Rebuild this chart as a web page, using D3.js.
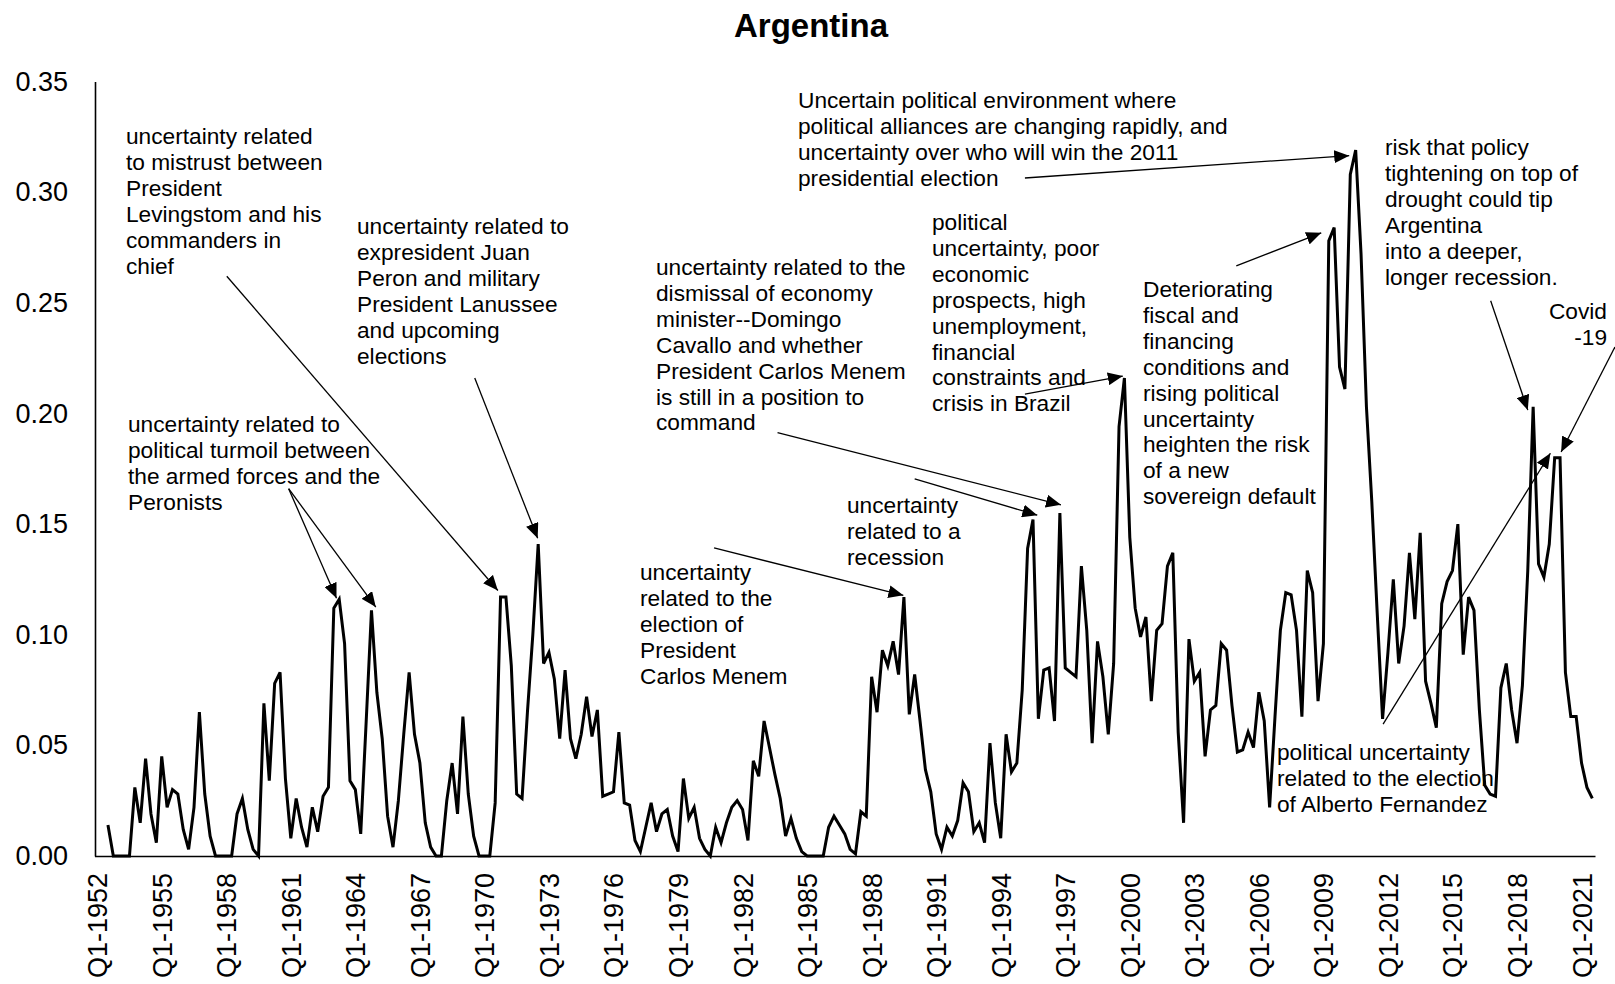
<!DOCTYPE html>
<html>
<head>
<meta charset="utf-8">
<script src="https://cdn.jsdelivr.net/npm/d3@7"></script>
<style>
  body { margin: 0; background: #fff; }
  svg { display: block; font-family: "Liberation Sans", Arial, sans-serif; }
</style>
</head>
<body>
<div id="chart"></div>
<script>
// quarters Q1-1952 .. Q3-2021
const categories = [];
for (let y = 1952; y <= 2021; y++) {
    for (let q = 1; q <= 4; q++) {
        if (y === 2021 && q > 3) break;
        categories.push("Q" + q + "-" + y);
    }
}

// uncertainty index, one value per quarter (first two quarters empty)
const values = [
    null, null, 0.014, 0, 0, 0, 0, 0.031, 0.015, 0.044,
    0.019, 0.006, 0.045, 0.022, 0.030, 0.028, 0.012, 0.003, 0.022, 0.065,
    0.028, 0.009, 0, 0, 0, 0, 0.019, 0.026, 0.012, 0.003,
    0, 0.069, 0.034, 0.078, 0.083, 0.035, 0.008, 0.026, 0.013, 0.004,
    0.022, 0.011, 0.027, 0.031, 0.112, 0.116, 0.096, 0.034, 0.030, 0.010,
    0.060, 0.111, 0.074, 0.053, 0.018, 0.004, 0.025, 0.055, 0.083, 0.055,
    0.042, 0.015, 0.004, 0, 0, 0.025, 0.042, 0.019, 0.063, 0.028,
    0.009, 0, 0, 0, 0.024, 0.117, 0.117, 0.086, 0.028, 0.026,
    0.065, 0.100, 0.141, 0.087, 0.092, 0.080, 0.053, 0.084, 0.053, 0.044,
    0.055, 0.072, 0.054, 0.066, 0.027, 0.028, 0.029, 0.056, 0.024, 0.023,
    0.007, 0.002, 0.013, 0.024, 0.011, 0.019, 0.021, 0.009, 0.002, 0.035,
    0.017, 0.022, 0.008, 0.003, 0, 0.013, 0.006, 0.015, 0.022, 0.025,
    0.021, 0.007, 0.043, 0.036, 0.061, 0.049, 0.037, 0.026, 0.009, 0.017,
    0.008, 0.002, 0, 0, 0, 0, 0.013, 0.018, 0.014, 0.010,
    0.003, 0.001, 0.020, 0.018, 0.081, 0.065, 0.093, 0.086, 0.097, 0.082,
    0.117, 0.064, 0.082, 0.061, 0.039, 0.029, 0.010, 0.003, 0.013, 0.009,
    0.016, 0.033, 0.029, 0.011, 0.015, 0.006, 0.051, 0.024, 0.008, 0.055,
    0.038, 0.042, 0.075, 0.139, 0.152, 0.062, 0.084, 0.085, 0.061, 0.155,
    0.085, 0.083, 0.081, 0.131, 0.102, 0.051, 0.097, 0.081, 0.055, 0.087,
    0.194, 0.216, 0.144, 0.112, 0.099, 0.108, 0.070, 0.102, 0.105, 0.131,
    0.137, 0.056, 0.015, 0.098, 0.079, 0.083, 0.045, 0.066, 0.068, 0.096,
    0.093, 0.068, 0.047, 0.048, 0.056, 0.049, 0.074, 0.061, 0.022, 0.063,
    0.102, 0.119, 0.118, 0.102, 0.063, 0.129, 0.119, 0.070, 0.096, 0.278,
    0.284, 0.221, 0.211, 0.308, 0.319, 0.272, 0.203, 0.160, 0.110, 0.062,
    0.092, 0.125, 0.087, 0.104, 0.137, 0.107, 0.146, 0.079, 0.069, 0.058,
    0.114, 0.124, 0.129, 0.150, 0.091, 0.117, 0.111, 0.066, 0.032, 0.028,
    0.027, 0.076, 0.087, 0.066, 0.051, 0.077, 0.129, 0.203, 0.132, 0.126,
    0.141, 0.180, 0.180, 0.083, 0.063, 0.063, 0.042, 0.031, 0.026
];

const yTicks = [0, 0.05, 0.10, 0.15, 0.20, 0.25, 0.30, 0.35];
const xTickYears = [1952, 1955, 1958, 1961, 1964, 1967, 1970, 1973, 1976, 1979, 1982, 1985,
    1988, 1991, 1994, 1997, 2000, 2003, 2006, 2009, 2012, 2015, 2018, 2021];

// annotations: text lines + arrows given as [quarter index, value]
const notes = [
    { x: 126, y: 136, lines: ["uncertainty related", "to mistrust between", "President", "Levingstom and his", "commanders in", "chief"],
      arrows: [[[24.1, 0.262], [74.5, 0.120]]] },
    { x: 128, y: 424, lines: ["uncertainty related to", "political turmoil between", "the armed forces and the", "Peronists"],
      arrows: [[[35.6, 0.166], [44.5, 0.1165]], [[35.6, 0.166], [51.8, 0.1125]]] },
    { x: 357, y: 226, lines: ["uncertainty related to", "expresident Juan", "Peron and military", "President Lanussee", "and upcoming", "elections"],
      arrows: [[[70.2, 0.216], [81.9, 0.1436]]] },
    { x: 656, y: 267, lines: ["uncertainty related to the", "dismissal of economy", "minister--Domingo", "Cavallo and whether", "President Carlos Menem", "is still in a position to", "command"],
      arrows: [[[126.5, 0.1913], [179.2, 0.1587]]] },
    { x: 640, y: 572, lines: ["uncertainty", "related to the", "election of", "President", "Carlos Menem"],
      arrows: [[[114.7, 0.1392], [149.9, 0.1178]]] },
    { x: 847, y: 505, lines: ["uncertainty", "related to a", "recession"],
      arrows: [[[152.0, 0.1704], [174.8, 0.154]]] },
    { x: 932, y: 222, lines: ["political", "uncertainty, poor", "economic", "prospects, high", "unemployment,", "financial", "constraints and", "crisis in Brazil"],
      arrows: [[[172.5, 0.2087], [190.7, 0.2169]]] },
    { x: 798, y: 100, lines: ["Uncertain political environment where", "political alliances are changing rapidly, and", "uncertainty over who will win the 2011", "presidential election"],
      arrows: [[[172.5, 0.3064], [232.8, 0.3165]]] },
    { x: 1143, y: 289, lines: ["Deteriorating", "fiscal and", "financing", "conditions and", "rising political", "uncertainty", "heighten the risk", "of a new", "sovereign default"],
      arrows: [[[211.8, 0.2667], [227.6, 0.2816]]] },
    { x: 1385, y: 147, lines: ["risk that policy", "tightening on top of", "drought could tip", "Argentina", "into a deeper,", "longer recession."],
      arrows: [[[259.1, 0.2509], [266.0, 0.2015]]] },
    { x: 1607, y: 311, anchor: "end", lines: ["Covid", "-19"],
      arrows: [[[282.2, 0.230], [272.2, 0.1826]]] },
    { x: 1277, y: 752, lines: ["political uncertainty", "related to the election", "of Alberto Fernandez"],
      arrows: [[[239.1, 0.0596], [270.2, 0.182]]] }
];

const width = 1615, height = 984;

const svg = d3.select("#chart")
    .append("svg")
    .attr("width", width)
    .attr("height", height);

svg.append("defs").append("marker")
    .attr("id", "head")
    .attr("markerUnits", "userSpaceOnUse")
    .attr("viewBox", "0 0 15 13")
    .attr("markerWidth", 15)
    .attr("markerHeight", 13)
    .attr("refX", 15)
    .attr("refY", 6.5)
    .attr("orient", "auto")
    .append("path")
    .attr("d", "M0,0 L15,6.5 L0,13 Z")
    .attr("fill", "#000");

const xScale = d3.scaleLinear()
    .domain([-0.5, categories.length - 0.5])
    .range([94.5, 1595]);

const yScale = d3.scaleLinear()
    .domain([0, 0.35])
    .range([856, 81.5]);

// title
svg.append("text")
    .attr("x", 811)
    .attr("y", 37)
    .attr("text-anchor", "middle")
    .style("font-size", "33px")
    .style("font-weight", "bold")
    .text("Argentina");

// y axis
const yAxis = svg.append("g")
    .attr("transform", "translate(95,0)")
    .call(d3.axisLeft(yScale)
        .tickValues(yTicks)
        .tickFormat(d3.format(".2f"))
        .tickSize(0)
        .tickPadding(27));
yAxis.select(".domain").attr("stroke", "#000").attr("stroke-width", 1.6);
yAxis.selectAll("text")
    .style("font-size", "27px")
    .style("font-family", "'Liberation Sans', Arial, sans-serif")
    .attr("fill", "#000");

// x axis
const xTickIdx = xTickYears.map(y => categories.indexOf("Q1-" + y));
const xAxis = svg.append("g")
    .attr("transform", "translate(0,856)")
    .call(d3.axisBottom(xScale)
        .tickValues(xTickIdx)
        .tickFormat(i => categories[i])
        .tickSize(0));
xAxis.select(".domain").attr("stroke", "#000").attr("stroke-width", 1.6);
xAxis.selectAll("text")
    .attr("transform", function (d) { return "translate(0,17) rotate(-90)"; })
    .attr("x", 0)
    .attr("y", 0)
    .attr("dy", "0.35em")
    .attr("text-anchor", "end")
    .style("font-size", "27px")
    .style("font-family", "'Liberation Sans', Arial, sans-serif")
    .attr("fill", "#000");

// annotation text
notes.forEach(n => {
    const t = svg.append("text")
        .attr("text-anchor", n.anchor || "start")
        .style("font-size", "22.7px")
        .attr("fill", "#000");
    n.lines.forEach((l, k) => {
        t.append("tspan")
            .attr("x", n.x)
            .attr("y", n.y + k * 25.9 + 8)
            .text(l);
    });
});

// annotation arrows
notes.forEach(n => {
    n.arrows.forEach(a => {
        svg.append("line")
            .attr("x1", xScale(a[0][0]))
            .attr("y1", yScale(a[0][1]))
            .attr("x2", xScale(a[1][0]))
            .attr("y2", yScale(a[1][1]))
            .attr("stroke", "#000")
            .attr("stroke-width", 1.3)
            .attr("marker-end", "url(#head)");
    });
});

// series line
const line = d3.line()
    .defined(d => d != null)
    .x((d, i) => xScale(i))
    .y(d => yScale(d));

svg.append("path")
    .datum(values)
    .attr("fill", "none")
    .attr("stroke", "#000")
    .attr("stroke-width", 3)
    .attr("stroke-linejoin", "miter")
    .attr("d", line);
</script>
</body>
</html>
